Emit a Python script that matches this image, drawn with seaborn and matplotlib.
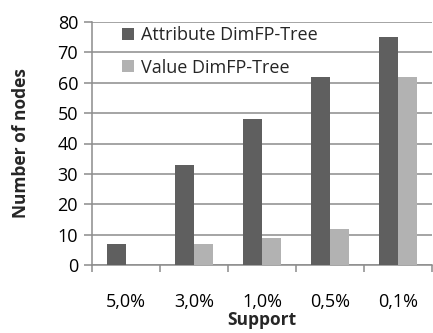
import matplotlib
matplotlib.use("Agg")
import matplotlib.pyplot as plt
import seaborn as sns
import pandas as pd
import numpy as np
from matplotlib.ticker import FixedLocator

supports = ["5,0%", "3,0%", "1,0%", "0,5%", "0,1%"]
attribute_nodes = [7, 33, 48, 62, 75]
value_nodes = [0, 7, 9, 12, 62]
series_names = ["Attribute DimFP-Tree", "Value DimFP-Tree"]
y_ticks = [0, 10, 20, 30, 40, 50, 60, 70, 80]

df = pd.DataFrame({
    "Support": supports * 2,
    "Nodes": attribute_nodes + value_nodes,
    "Series": [series_names[0]] * len(supports) + [series_names[1]] * len(supports),
})

sns.set_theme(style="white")
plt.rcParams["font.family"] = ["Open Sans", "DejaVu Sans"]

fig = plt.figure(figsize=(4.33, 3.33), dpi=100)
ax = fig.add_axes([92 / 433, 1 - 265 / 333, 340 / 433, 243 / 333])

grid_c = "#8c8c8c"
sns.barplot(data=df, x="Support", y="Nodes", hue="Series", order=supports,
            hue_order=series_names, palette=["#5f5f5f", "#b2b2b2"],
            width=0.56, gap=0, saturation=1, ax=ax, legend=True, zorder=3,
            linewidth=0)

ax.set_xlim(-0.5, len(supports) - 0.5)
ax.set_ylim(0, 80)
ax.set_yticks(y_ticks)
ax.yaxis.grid(True, color=grid_c, linewidth=1.1, zorder=0)
ax.set_axisbelow(True)

for s in ["top", "right"]:
    ax.spines[s].set_visible(False)
for s in ["left", "bottom"]:
    ax.spines[s].set_color(grid_c)
    ax.spines[s].set_linewidth(1.1)

ax.tick_params(axis="y", length=6, color=grid_c, width=1.1, labelsize=13,
               pad=4, labelcolor="black", left=True)
ax.tick_params(axis="x", which="major", length=0, labelsize=13, pad=20,
               labelcolor="black")
ax.xaxis.set_minor_locator(FixedLocator(np.arange(-0.5, len(supports), 1.0)))
ax.tick_params(axis="x", which="minor", length=5, color=grid_c, width=1.1,
               bottom=True)

ax.set_xlabel("Support", fontsize=12.5, fontweight="bold", labelpad=0)
ax.set_ylabel("Number of nodes", fontsize=12.5, fontweight="bold", labelpad=20)

leg = ax.legend(loc="upper left", bbox_to_anchor=(0.04, 1.05), frameon=False,
                fontsize=13, handlelength=0.65, handleheight=0.65,
                handletextpad=0.4, labelspacing=0.8)

fig.savefig("out.png", dpi=100)
